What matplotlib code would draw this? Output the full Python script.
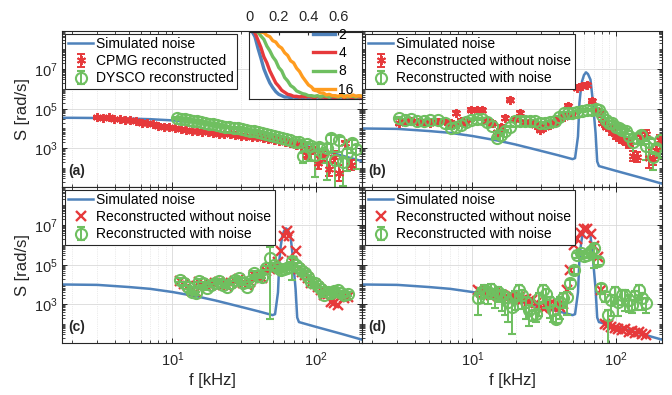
import numpy as np
import matplotlib.pyplot as plt
from matplotlib.ticker import LogLocator, NullFormatter

plt.rcParams['font.family'] = 'Liberation Sans'
plt.rcParams['mathtext.fontset'] = 'custom'
plt.rcParams['mathtext.rm'] = 'Liberation Sans'

blue = '#4f82bb'
red = '#e6393b'
green = '#6fbf60'
orange = '#ff9c1f'
dark = '#262626'

# ---- simulated noise (log10 S) ----
f_sim_a = [1.7, 2, 3, 4, 5, 7, 10, 15, 20, 30, 50, 70, 100, 150, 210]
sim_a = [4.54, 4.54, 4.53, 4.52, 4.50, 4.47, 4.41, 4.29, 4.16, 3.93, 3.56, 3.29, 2.99, 2.64, 2.35]

f_sim = [1.7, 3, 5, 7, 10, 15, 20, 30, 40, 50, 52, 54.5, 55.8, 57, 58.2, 60, 62, 64,
         66.6, 69, 72.3, 74.2, 76.3, 100, 150, 210]
sim = [4.00, 3.98, 3.87, 3.78, 3.62, 3.39, 3.19, 2.87, 2.64, 2.45, 2.50, 3.60, 5.29, 5.95,
       6.39, 6.70, 6.84, 6.75, 6.47, 5.46, 3.77, 2.33, 2.10, 1.86, 1.51, 1.21]

# ---- panel (a) ----
f_cpmg = [3.0, 3.3, 3.6, 3.9, 4.3, 4.7, 5.1, 5.6, 6.1, 6.7,
          7.3, 8.0, 8.7, 9.5, 10.4, 11.4, 12.4, 13.6, 14.8, 16.2,
          17.7, 19.3, 21.1, 23.0, 25.2, 27.5, 30.0, 32.8, 35.8, 39.1,
          42.7, 46.6, 50.9, 55.6, 60.7, 66.3, 72.4, 79.0, 86.3, 94.2,
          103, 112, 123, 134, 146, 160, 175]
cpmg = [4.58, 4.52, 4.56, 4.49, 4.47, 4.42, 4.43, 4.36, 4.30, 4.28,
        4.21, 4.15, 4.10, 4.06, 4.02, 3.95, 3.90, 3.86, 3.85, 3.82,
        3.80, 3.76, 3.73, 3.70, 3.74, 3.68, 3.64, 3.62, 3.58, 3.55,
        3.52, 3.48, 3.42, 3.38, 3.30, 3.25, 3.17, 3.10, 2.66, 2.90,
        2.25, 2.60, 1.95, 2.55, 1.75, 3.26, 2.16]
cpmg_err = [0.06, 0.06, 0.06, 0.06, 0.06, 0.06, 0.06, 0.06, 0.06, 0.06,
            0.06, 0.06, 0.06, 0.06, 0.06, 0.06, 0.06, 0.06, 0.06, 0.06,
            0.06, 0.06, 0.06, 0.06, 0.06, 0.06, 0.06, 0.06, 0.06, 0.06,
            0.07, 0.07, 0.08, 0.08, 0.08, 0.1, 0.1, 0.1, 0.2, 0.15,
            0.3, 0.25, 0.35, 0.3, 0.4, 0.12, 0.25]

f_dysco = [10.7, 11.4, 12.2, 13.0, 13.9, 14.8, 15.8, 16.9, 18.0, 19.2,
           20.5, 21.9, 23.4, 25.0, 26.7, 28.5, 30.4, 32.5, 34.7, 37.0,
           39.5, 42.2, 45.0, 48.1, 51.3, 54.8, 58.5, 62.4, 66.6, 71.1,
           75.9, 81.0, 86.5, 92.3, 98.5, 105, 112, 120, 128, 137,
           146, 156, 166, 178, 190]
dysco = [4.53, 4.48, 4.50, 4.42, 4.36, 4.38, 4.33, 4.28, 4.25, 4.22,
         4.18, 4.15, 4.10, 4.05, 4.02, 4.00, 3.96, 3.92, 3.88, 3.85,
         3.80, 3.76, 3.72, 3.68, 3.63, 3.59, 3.52, 3.45, 3.40, 3.34,
         3.30, 2.60, 3.20, 3.09, 2.66, 3.05, 2.76, 3.00, 3.51, 2.40,
         3.43, 2.30, 2.75, 3.26, 2.95]
dysco_lo = [0.05, 0.05, 0.05, 0.05, 0.05, 0.05, 0.05, 0.05, 0.05, 0.05,
            0.05, 0.05, 0.05, 0.05, 0.05, 0.05, 0.05, 0.05, 0.05, 0.05,
            0.05, 0.05, 0.05, 0.05, 0.05, 0.05, 0.05, 0.06, 0.06, 0.08,
            0.1, 0.35, 0.2, 0.75, 1.1, 0.4, 0.5, 1.6, 0.7, 1.5,
            0.6, 1.2, 0.9, 0.5, 1.0]
dysco_hi = [0.05, 0.05, 0.05, 0.05, 0.05, 0.05, 0.05, 0.05, 0.05, 0.05,
            0.05, 0.05, 0.05, 0.05, 0.05, 0.05, 0.05, 0.05, 0.05, 0.05,
            0.05, 0.05, 0.05, 0.05, 0.05, 0.05, 0.05, 0.06, 0.06, 0.08,
            0.1, 0.15, 0.1, 0.15, 0.2, 0.15, 0.15, 0.2, 0.15, 0.2,
            0.15, 0.2, 0.2, 0.15, 0.2]

# ---- panel (b) ----
f_b = [3.08, 3.4, 3.72, 4.1, 4.61, 5.1, 5.73, 6.4, 7.11, 7.7,
       8.37, 9.1, 9.84, 10.7, 11.6, 12.6, 13.6, 14.8, 15.8, 16.8,
       18.2, 19.8, 21.4, 23.2, 25.2, 27.3, 29.7, 32.2, 35.0, 37.8,
       40.5, 43.3, 46.3, 49.5, 53.8, 58.2, 63.2, 68.5, 72.3, 76.3,
       80.5, 85.1, 90.0, 94.8, 100, 105.5, 111, 117.5, 124, 131,
       140, 150, 162, 170, 181, 190, 202]
red_b = [4.27, 4.35, 4.40, 4.35, 4.30, 4.30, 4.35, 4.40, 4.30, 4.78,
         4.40, 4.30, 4.95, 4.95, 4.95, 4.40, 4.30, 3.80, 4.10, 4.53,
         5.46, 4.50, 4.78, 4.35, 4.30, 4.20, 3.93, 4.10, 4.20, 4.30,
         4.50, 4.60, 5.15, 4.70, 6.05, 6.15, 6.20, 5.40, 4.90, 4.80,
         4.30, 4.10, 4.00, 3.80, 3.60, 3.50, 3.43, 3.30, 3.20, 2.60,
         2.55, 3.55, 3.70, 2.50, 2.45, 2.90, 3.43]
red_b_err = [0.08, 0.08, 0.08, 0.08, 0.08, 0.08, 0.08, 0.08, 0.08, 0.08,
             0.08, 0.08, 0.08, 0.08, 0.08, 0.08, 0.08, 0.08, 0.08, 0.08,
             0.08, 0.08, 0.08, 0.08, 0.08, 0.08, 0.08, 0.08, 0.08, 0.08,
             0.08, 0.08, 0.08, 0.08, 0.08, 0.08, 0.08, 0.08, 0.08, 0.08,
             0.1, 0.1, 0.1, 0.12, 0.12, 0.15, 0.15, 0.15, 0.2, 0.25,
             0.25, 0.2, 0.2, 0.5, 0.3, 0.3, 0.25]
green_b = [4.53, 4.45, 4.50, 4.40, 4.36, 4.45, 4.45, 4.30, 4.02, 4.05,
           4.19, 4.35, 4.45, 4.50, 4.50, 4.35, 4.11, 3.51, 3.65, 3.85,
           4.10, 4.36, 4.40, 4.40, 4.38, 4.36, 4.30, 4.27, 4.35, 4.36,
           4.60, 4.78, 4.78, 4.78, 4.85, 4.87, 4.92, 4.95, 4.97, 4.95,
           4.70, 4.44, 4.30, 4.27, 4.10, 4.02, 3.90, 3.85, 3.60, 3.34,
           3.50, 3.68, 3.09, 3.30, 2.58, 3.00, 3.43]
green_b_lo = [0.05, 0.05, 0.05, 0.05, 0.05, 0.05, 0.05, 0.05, 0.05, 0.05,
              0.05, 0.05, 0.05, 0.05, 0.05, 0.05, 0.05, 0.05, 0.05, 0.05,
              0.05, 0.05, 0.05, 0.05, 0.05, 0.05, 0.05, 0.05, 0.05, 0.05,
              0.05, 0.05, 0.05, 0.05, 0.05, 0.05, 0.05, 0.05, 0.05, 0.05,
              0.08, 0.08, 0.1, 0.1, 0.1, 0.12, 0.12, 0.15, 0.2, 0.85,
              0.3, 0.5, 0.7, 0.3, 0.7, 0.4, 0.9]
green_b_hi = [0.05, 0.05, 0.05, 0.05, 0.05, 0.05, 0.05, 0.05, 0.05, 0.05,
              0.05, 0.05, 0.05, 0.05, 0.05, 0.05, 0.05, 0.05, 0.05, 0.05,
              0.05, 0.05, 0.05, 0.05, 0.05, 0.05, 0.05, 0.05, 0.05, 0.05,
              0.05, 0.05, 0.05, 0.05, 0.05, 0.05, 0.05, 0.05, 0.05, 0.05,
              0.08, 0.08, 0.1, 0.1, 0.1, 0.1, 0.1, 0.1, 0.12, 0.15,
              0.15, 0.15, 0.15, 0.15, 0.15, 0.15, 0.15]

# ---- panel (c) ----
f_c = [11.3, 12.0, 12.8, 13.6, 14.5, 15.4, 16.4, 17.5, 18.6, 19.8,
       21.1, 22.5, 24.0, 25.5, 27.2, 29.0, 30.9, 32.9, 35.0, 37.3,
       39.7, 42.3, 45.0, 47.9, 51.0, 54.3, 57.1, 60.0, 62.5, 65.0,
       68.8, 72.5, 76.0, 80.0, 84.0, 88.5, 93.0, 98.0, 103, 109,
       115, 121, 128, 135, 142, 150, 158, 167]
red_c = [4.20, 4.00, 3.90, 3.65, 3.60, 4.15, 4.00, 3.85, 3.95, 4.05,
         4.15, 3.95, 3.92, 4.05, 4.20, 4.28, 4.05, 3.95, 4.15, 4.50,
         4.40, 4.35, 4.70, 4.80, 4.90, 5.15, 5.70, 6.45, 6.72, 6.45,
         5.20, 5.68, 4.80, 4.65, 4.50, 4.35, 4.10, 4.00, 3.85, 3.70,
         3.45, 3.50, 3.10, 3.05, 2.96, 3.40, 3.30, 3.35]
green_c = [4.23, 4.05, 3.85, 3.60, 3.56, 4.20, 4.05, 3.81, 3.95, 4.10,
           4.20, 3.95, 3.89, 4.10, 4.25, 4.32, 4.05, 3.89, 4.20, 4.58,
           4.45, 4.40, 4.83, 5.34, 5.00, 4.85, 4.74, 4.80, 4.83, 4.90,
           5.17, 5.00, 4.85, 4.70, 4.58, 4.40, 4.15, 4.05, 3.90, 3.75,
           3.47, 3.60, 3.56, 3.65, 3.72, 3.55, 3.47, 3.50]
green_c_lo = [0.08, 0.08, 0.08, 0.08, 0.08, 0.08, 0.08, 0.08, 0.08, 0.08,
              0.08, 0.08, 0.08, 0.08, 0.08, 0.08, 0.08, 0.08, 0.08, 0.08,
              0.08, 0.08, 0.08, 3.1, 0.1, 0.1, 0.1, 0.1, 0.1, 0.1,
              0.95, 0.1, 0.1, 0.1, 0.1, 0.1, 0.1, 0.1, 0.1, 0.1,
              0.1, 0.1, 0.1, 0.1, 0.1, 0.1, 0.1, 0.1]
green_c_hi = [0.08, 0.08, 0.08, 0.08, 0.08, 0.08, 0.08, 0.08, 0.08, 0.08,
              0.08, 0.08, 0.08, 0.08, 0.08, 0.08, 0.08, 0.08, 0.08, 0.08,
              0.08, 0.08, 0.08, 0.55, 0.1, 0.1, 0.1, 0.1, 0.1, 0.1,
              0.15, 0.1, 0.1, 0.1, 0.1, 0.1, 0.1, 0.1, 0.1, 0.1,
              0.1, 0.1, 0.1, 0.1, 0.1, 0.1, 0.1, 0.1]

# ---- panel (d) ----
f_d = [10.9, 11.5, 12.1, 12.8, 13.5, 14.3, 15.1, 16.0, 16.9, 17.8,
       18.8, 19.9, 21.0, 22.2, 23.5, 24.8, 26.2, 27.7, 29.3, 31.0,
       32.7, 34.6, 36.5, 38.6, 40.8, 43.1, 45.5, 48.1, 50.8, 53.7,
       56.8, 60.0, 63.4, 67.0, 70.8, 74.8, 79.0, 83.5, 88.3, 93.3,
       98.6, 104, 110, 116, 123, 130, 137, 145, 153, 162]
red_d = [3.70, 3.60, 3.55, 3.50, 3.45, 3.55, 3.40, 3.45, 3.35, 3.30,
         3.40, 3.30, 3.35, 3.20, 3.25, 3.15, 3.20, 3.05, 2.95, 2.79,
         2.85, 3.00, 2.90, 2.95, 2.85, 3.00, 3.72, 4.74, 6.02, 6.30,
         6.62, 6.79, 6.79, 6.53, 5.94, 5.40, 3.72, 2.02, 1.95, 1.85,
         1.80, 1.75, 1.70, 1.75, 1.60, 1.65, 1.55, 1.60, 1.50, 1.45]
green_d = [3.30, 3.55, 3.72, 3.60, 3.77, 3.50, 3.64, 3.45, 3.38, 3.10,
           2.87, 3.40, 3.72, 3.45, 3.13, 2.70, 2.45, 2.50, 3.30, 3.70,
           3.50, 3.13, 2.70, 2.28, 3.13, 3.30, 3.38, 4.07, 4.74, 5.50,
           5.60, 5.45, 5.50, 5.70, 5.85, 5.20, 3.81, 3.40, 2.45, 3.21,
           3.60, 3.13, 3.45, 3.47, 3.20, 2.96, 3.40, 3.72, 3.30, 3.05]
green_d_lo = [0.85, 0.5, 0.4, 0.6, 0.5, 0.7, 0.55, 0.8, 0.9, 1.0,
              1.35, 0.7, 0.5, 0.7, 0.9, 0.8, 0.3, 0.4, 0.9, 0.6,
              0.7, 0.8, 0.6, 0.25, 0.9, 0.5, 0.9, 0.3, 0.2, 0.15,
              0.1, 0.1, 0.15, 0.2, 1.0, 0.2, 0.3, 0.3, 1.5, 0.8,
              0.6, 0.7, 0.5, 0.8, 0.6, 0.4, 0.7, 0.5, 0.6, 0.5]
green_d_hi = [0.25, 0.25, 0.25, 0.25, 0.25, 0.25, 0.25, 0.25, 0.25, 0.25,
              0.25, 0.25, 0.25, 0.25, 0.25, 0.25, 0.2, 0.2, 0.25, 0.25,
              0.25, 0.25, 0.25, 0.2, 0.25, 0.25, 0.25, 0.15, 0.15, 0.1,
              0.1, 0.1, 0.1, 0.15, 0.2, 0.15, 0.2, 0.2, 0.25, 0.25,
              0.25, 0.25, 0.25, 0.25, 0.25, 0.25, 0.25, 0.25, 0.25, 0.25]

# ---- inset: decay curves ----
t_in = [0.00, 0.02, 0.04, 0.06, 0.08, 0.10, 0.12, 0.14, 0.16, 0.18,
        0.20, 0.22, 0.24, 0.26, 0.28, 0.30, 0.32, 0.34, 0.36, 0.38,
        0.40, 0.42, 0.44, 0.46, 0.48, 0.50, 0.52, 0.54, 0.56, 0.58,
        0.60, 0.62, 0.64, 0.66, 0.68, 0.70, 0.72, 0.74, 0.76]
dec_2 = [1.02, 1.01, 0.93, 0.76, 0.61, 0.45, 0.34, 0.24, 0.17, 0.11,
         0.07, 0.05, 0.03, 0.03, 0.02, 0.03, 0.02, 0.03, 0.02, 0.03,
         0.02, 0.03, 0.02, 0.03, 0.02, 0.03, 0.02, 0.03, 0.02, 0.03,
         0.02, 0.03, 0.02, 0.03, 0.02, 0.03, 0.02, 0.03, 0.02]
dec_4 = [1.02, 1.02, 0.99, 0.88, 0.77, 0.63, 0.54, 0.42, 0.33, 0.24,
         0.19, 0.13, 0.10, 0.07, 0.06, 0.04, 0.04, 0.03, 0.04, 0.03,
         0.04, 0.03, 0.02, 0.04, 0.03, 0.03, 0.02, 0.04, 0.03, 0.02,
         0.03, 0.04, 0.02, 0.03, 0.03, 0.02, 0.04, 0.03, 0.03]
dec_8 = [1.02, 1.02, 1.01, 1.00, 0.94, 0.89, 0.79, 0.72, 0.63, 0.57,
         0.47, 0.42, 0.32, 0.27, 0.20, 0.17, 0.12, 0.10, 0.08, 0.07,
         0.05, 0.05, 0.04, 0.05, 0.03, 0.05, 0.04, 0.03, 0.05, 0.04,
         0.03, 0.04, 0.05, 0.03, 0.04, 0.04, 0.03, 0.05, 0.04]
dec_16 = [1.02, 1.02, 1.02, 1.01, 1.00, 0.99, 0.95, 0.93, 0.87, 0.85,
          0.79, 0.76, 0.69, 0.65, 0.57, 0.54, 0.46, 0.41, 0.33, 0.27,
          0.21, 0.18, 0.13, 0.12, 0.09, 0.09, 0.06, 0.07, 0.05, 0.05,
          0.04, 0.06, 0.03, 0.05, 0.04, 0.06, 0.04, 0.05, 0.04]


def errpts(ax, f, logs, lo, hi, **kw):
    s = 10.0 ** np.array(logs)
    yerr = [s - s / 10.0 ** np.array(lo), s * 10.0 ** np.array(hi) - s]
    return ax.errorbar(f, s, yerr=yerr, linestyle='none', **kw)


green_kw = dict(marker='o', ms=8, mfc='none', mec=green, mew=1.5, ecolor=green,
                elinewidth=1.4, capsize=3, capthick=1.4)
red_kw = dict(marker=(6, 2, 0), ms=6.5, color=red, mew=1.4, ecolor=red,
              elinewidth=1.4, capsize=3, capthick=1.4)

W, H = 672, 395


def box(x0, y0, x1, y1):
    return [x0 / W, 1 - y1 / H, (x1 - x0) / W, (y1 - y0) / H]


def style(ax, label, left, bottom):
    ax.set_xscale('log')
    ax.set_yscale('log')
    ax.set_xlim(1.7, 210)
    ax.set_ylim(11, 8.5e8)
    ax.set_yticks([1e3, 1e5, 1e7])
    ax.yaxis.set_minor_locator(LogLocator(base=10, subs=np.arange(1, 10), numticks=100))
    ax.yaxis.set_minor_formatter(NullFormatter())
    ax.xaxis.set_minor_locator(LogLocator(base=10, subs=np.arange(2, 10), numticks=100))
    ax.xaxis.set_minor_formatter(NullFormatter())
    ax.tick_params(which='both', direction='in', top=True, right=True,
                   colors=dark, labelsize=10.5)
    ax.tick_params(which='major', length=3.5, width=0.7)
    ax.tick_params(which='minor', length=2, width=0.6)
    ax.tick_params(axis='x', pad=5)
    ax.tick_params(axis='y', pad=3)
    ax.grid(which='major', color='#d9d9d9', lw=0.6)
    ax.grid(which='minor', axis='x', color='#d9d9d9', lw=0.5, ls=':')
    ax.set_axisbelow(True)
    for sp in ax.spines.values():
        sp.set_color(dark)
        sp.set_linewidth(0.8)
    if left:
        ax.set_ylabel('S [rad/s]', fontsize=12, color=dark, labelpad=3)
    else:
        ax.tick_params(labelleft=False)
    if bottom:
        ax.set_xlabel('f [kHz]', fontsize=12, color=dark, labelpad=3)
    else:
        ax.tick_params(labelbottom=False)
    ax.text(0.02, 0.075, label, transform=ax.transAxes, fontweight='bold',
            fontsize=10, color=dark)


def add_legend(ax):
    leg = ax.legend(loc='upper left', fontsize=10, frameon=True, fancybox=False,
                    framealpha=1, edgecolor=dark, borderpad=0.25,
                    handlelength=1.8, handletextpad=0.2, labelspacing=0.22,
                    borderaxespad=0.2)
    leg.get_frame().set_linewidth(0.8)


fig = plt.figure(figsize=(6.72, 3.95), dpi=100)
ax_a = fig.add_axes(box(62, 31, 362, 187))
ax_b = fig.add_axes(box(362, 31, 662, 187))
ax_c = fig.add_axes(box(62, 187, 362, 343))
ax_d = fig.add_axes(box(362, 187, 662, 343))

# (a)
ax_a.plot(f_sim_a, 10.0 ** np.array(sim_a), color=blue, lw=1.8, label='Simulated noise')
errpts(ax_a, f_cpmg, cpmg, cpmg_err, cpmg_err, label='CPMG reconstructed', **red_kw)
errpts(ax_a, f_dysco, dysco, dysco_lo, dysco_hi, label='DYSCO reconstructed', **green_kw)
style(ax_a, '(a)', True, False)
add_legend(ax_a)

# (b)
ax_b.plot(f_sim, 10.0 ** np.array(sim), color=blue, lw=1.8, label='Simulated noise')
errpts(ax_b, f_b, red_b, red_b_err, red_b_err, label='Reconstructed without noise', **red_kw)
errpts(ax_b, f_b, green_b, green_b_lo, green_b_hi, label='Reconstructed with noise', **green_kw)
style(ax_b, '(b)', False, False)
add_legend(ax_b)

# (c)
ax_c.plot(f_sim, 10.0 ** np.array(sim), color=blue, lw=1.8, label='Simulated noise')
ax_c.plot(f_c, 10.0 ** np.array(red_c), 'x', color=red, ms=7, mew=1.7,
          label='Reconstructed without noise')
errpts(ax_c, f_c, green_c, green_c_lo, green_c_hi, label='Reconstructed with noise', **green_kw)
style(ax_c, '(c)', True, True)
add_legend(ax_c)

# (d)
ax_d.plot(f_sim, 10.0 ** np.array(sim), color=blue, lw=1.8, label='Simulated noise')
ax_d.plot(f_d, 10.0 ** np.array(red_d), 'x', color=red, ms=7, mew=1.7,
          label='Reconstructed without noise')
errpts(ax_d, f_d, green_d, green_d_lo, green_d_hi, label='Reconstructed with noise', **green_kw)
style(ax_d, '(d)', False, True)
add_legend(ax_d)

# inset in (a)
ins = fig.add_axes(box(249, 32, 362, 99))
for vals, col, lab in [(dec_2, blue, '2'), (dec_4, red, '4'),
                       (dec_8, green, '8'), (dec_16, orange, '16')]:
    ins.plot(t_in, vals, color=col, lw=2.4, label=lab)
ins.set_xlim(0, 0.76)
ins.set_ylim(0, 1.0)
ins.xaxis.tick_top()
ins.set_xticks([0, 0.2, 0.4, 0.6])
ins.set_xticklabels(['0', '0.2', '0.4', '0.6'])
ins.set_yticks([])
ins.tick_params(axis='x', direction='in', length=2, pad=6, labelsize=10.5, colors=dark)
for sp in ins.spines.values():
    sp.set_color(dark)
    sp.set_linewidth(0.8)
ins.legend(loc='upper right', bbox_to_anchor=(0.95, 1.1), frameon=False, fontsize=10,
           handlelength=1.6, handletextpad=0.2, labelspacing=0.3, borderaxespad=0.1,
           borderpad=0.1)

fig.savefig('out.png', dpi=100)
